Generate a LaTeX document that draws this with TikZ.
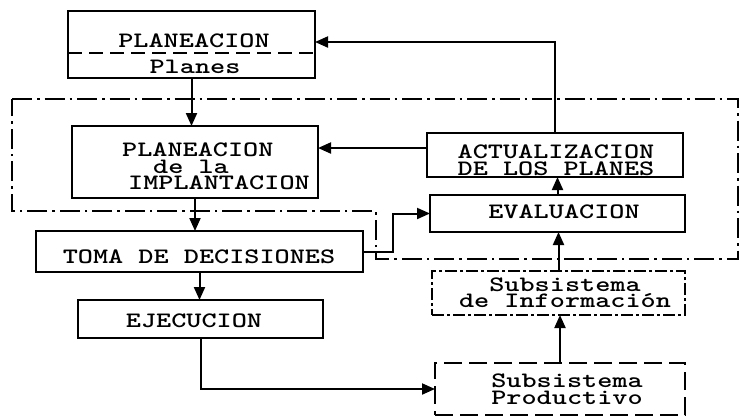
\documentclass[tikz,border=0pt]{standalone}
\usepackage{fontspec}
\usetikzlibrary{arrows.meta}
\newfontfamily\typefont[FakeStretch=1.31]{lmmonolt10-bold.otf}
\begin{document}
\begin{tikzpicture}[x=1pt,y=-1pt,
  box/.style={draw,line width=2pt,rectangle,inner sep=0pt,outer sep=0pt},
  prodbox/.style={box,dash pattern=on 18pt off 7pt},
  infobox/.style={box,dash pattern=on 12pt off 3pt on 3pt off 3pt},
  txt/.style={inner sep=0pt,anchor=base,font=\typefont\fontsize{22}{17}\selectfont},
  txtblock/.style={inner sep=0pt,anchor=north,align=center,font=\typefont\fontsize{22}{16.8}\selectfont},
  arr/.style={line width=2pt,-{Triangle[length=13pt,width=11pt]}},
  limit/.style={line width=2pt,dash pattern=on 20pt off 5pt on 2.5pt off 5pt}]
\useasboundingbox (0,0) rectangle (739,418);

% boundary of the implementation cycle
\draw[limit] (12,99) -- (738,99) -- (738,259) -- (376,259) -- (376,211) -- (12,211) -- cycle;

% boxes
\node[box,minimum width=247pt,minimum height=67pt] (plan) at (191.5,44.5) {};
\node[box,minimum width=246pt,minimum height=72pt] (pdi) at (195,162) {};
\node[box,minimum width=327pt,minimum height=41pt] (toma) at (199.5,251.5) {};
\node[box,minimum width=245pt,minimum height=38pt] (ejec) at (200.5,319) {};
\node[box,minimum width=256pt,minimum height=44pt] (act) at (555,155) {};
\node[box,minimum width=255pt,minimum height=37pt] (eval) at (557.5,213.5) {};
\node[infobox,minimum width=253pt,minimum height=44pt] (si) at (558.5,293) {};
\node[prodbox,minimum width=250pt,minimum height=52pt] (sp) at (560,389) {};

% separator inside PLANEACION
\draw[line width=1.6pt,dash pattern=on 14pt off 7pt]
  ([yshift=-8.5pt]plan.west) -- ([yshift=-8.5pt]plan.east);

% texts
\node[txt] (t-plan) at (194,47) {PLANEACION};
\node[txt] (t-planes) at (195,73) {Planes};
\node[txtblock,anchor=north west,align=left] (t-pdi) at (122,142.3)
  {PLANEACION\\\hspace*{31pt}de la\\\hspace*{6pt}IMPLANTACION};
\node[txt] (t-toma) at (199,263) {TOMA DE DECISIONES};
\node[txt] (t-ejec) at (194,327) {EJECUCION};
\node[txtblock] (t-act) at (556,144.6) {ACTUALIZACION\\DE LOS PLANES};
\node[txt] (t-eval) at (564,218) {EVALUACION};
\node[txtblock] (t-si) at (565,277.3) {Subsistema\\de Información};
\node[txtblock] (t-sp) at (567,373.6) {Subsistema\\Productivo};

% connectors
\coordinate (jog) at (393,0);
\draw[arr] (plan.south) -- (plan.south |- pdi.north);
\draw[arr] (pdi.south) -- (pdi.south |- toma.north);
\draw[arr] (toma.south) -- (toma.south |- ejec.north);
\draw[arr] (ejec.south) |- (sp.west);
\draw[arr] (sp.north) -- (sp.north |- si.south);
\draw[arr] (si.north) -- (si.north |- eval.south);
\draw[arr] (eval.north) -- (eval.north |- act.south);
\draw[arr] ([yshift=7pt]act.west) -- ([yshift=7pt]act.west -| pdi.east);
\draw[arr] (act.north) |- ([yshift=2.5pt]plan.east);
\draw[arr] (toma.east) -- (toma.east -| jog) |- (eval.west);
\end{tikzpicture}
\end{document}
